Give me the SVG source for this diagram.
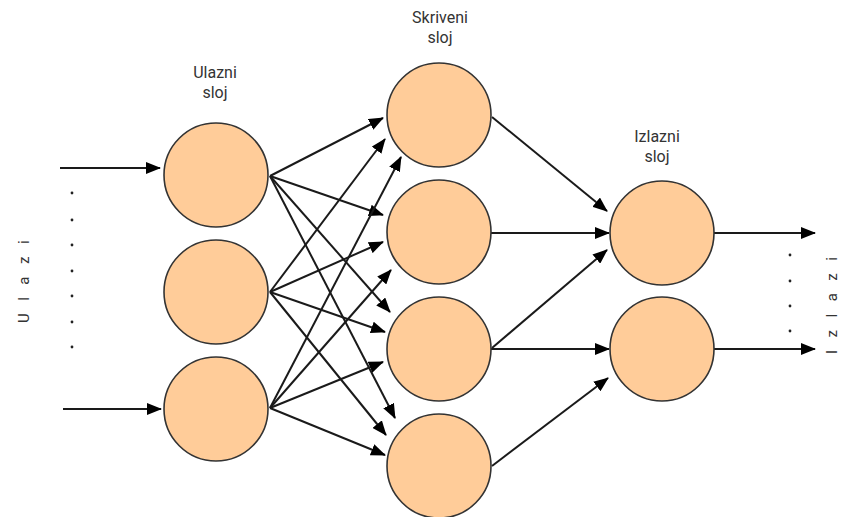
<svg xmlns="http://www.w3.org/2000/svg" width="843" height="517" viewBox="0 0 843 517">
<style>
.node{fill:#FFCC99;stroke:#333333;stroke-width:1.6}
.lbl{font-family:Roboto,"Liberation Sans",sans-serif;font-size:16px;fill:#333333;text-anchor:middle}
.side{font-family:Roboto,"Liberation Sans",sans-serif;font-size:15px;fill:#333333;letter-spacing:12.5px}
.edge{stroke:#1a1a1a;stroke-width:2;fill:none;marker-end:url(#arr)}
.dot{fill:#222222}
</style>
<defs>
<marker id="arr" viewBox="0 0 15 12" refX="14" refY="6" markerWidth="15" markerHeight="12" markerUnits="userSpaceOnUse" orient="auto">
<path d="M0,0 L15,6 L0,12 Z" fill="#000000"/>
</marker>
</defs>
<rect width="843" height="517" fill="#ffffff"/>
<g id="labels">
<text class="lbl" x="215" y="78">Ulazni</text>
<text class="lbl" x="215" y="98">sloj</text>
<text class="lbl" x="440" y="23">Skriveni</text>
<text class="lbl" x="440" y="43">sloj</text>
<text class="lbl" x="657" y="142">Izlazni</text>
<text class="lbl" x="657" y="162">sloj</text>
<text class="side" transform="translate(29,323) rotate(-90)">Ulazi</text>
<text class="side" transform="translate(837,354) rotate(-90)">Izlazi</text>
</g>
<g id="dots">
<circle class="dot" cx="72" cy="193" r="1.4"/>
<circle class="dot" cx="72" cy="220" r="1.4"/>
<circle class="dot" cx="72" cy="245" r="1.4"/>
<circle class="dot" cx="72" cy="271" r="1.4"/>
<circle class="dot" cx="72" cy="296" r="1.4"/>
<circle class="dot" cx="72" cy="322" r="1.4"/>
<circle class="dot" cx="72" cy="347" r="1.4"/>
<circle class="dot" cx="790" cy="255" r="1.4"/>
<circle class="dot" cx="790" cy="281" r="1.4"/>
<circle class="dot" cx="790" cy="306" r="1.4"/>
<circle class="dot" cx="790" cy="331" r="1.4"/>
</g>
<g id="connectors">
<line class="edge" x1="60" y1="168" x2="160" y2="168"/>
<line class="edge" x1="63" y1="409" x2="161" y2="409"/>
<line class="edge" x1="270" y1="176" x2="383" y2="118"/>
<line class="edge" x1="270" y1="176" x2="383" y2="215"/>
<line class="edge" x1="270" y1="176" x2="390" y2="312"/>
<line class="edge" x1="270" y1="176" x2="395" y2="418"/>
<line class="edge" x1="270" y1="292" x2="385" y2="139"/>
<line class="edge" x1="270" y1="292" x2="383" y2="242"/>
<line class="edge" x1="270" y1="292" x2="385" y2="332"/>
<line class="edge" x1="270" y1="292" x2="386" y2="435"/>
<line class="edge" x1="270" y1="408" x2="401" y2="157"/>
<line class="edge" x1="270" y1="408" x2="391" y2="270"/>
<line class="edge" x1="270" y1="408" x2="383" y2="362"/>
<line class="edge" x1="270" y1="408" x2="385" y2="455"/>
<line class="edge" x1="492" y1="117" x2="607" y2="211"/>
<line class="edge" x1="491" y1="233" x2="609" y2="233"/>
<line class="edge" x1="492" y1="348" x2="607" y2="250"/>
<line class="edge" x1="491" y1="349" x2="609" y2="349"/>
<line class="edge" x1="492" y1="466" x2="608" y2="378"/>
<line class="edge" x1="714" y1="233" x2="815" y2="233"/>
<line class="edge" x1="714" y1="349" x2="815" y2="349"/>
</g>
<g id="in1"><circle class="node" cx="216" cy="175" r="52"/></g>
<g id="in2"><circle class="node" cx="216" cy="292" r="52"/></g>
<g id="in3"><circle class="node" cx="216" cy="409" r="52"/></g>
<g id="h1"><circle class="node" cx="439" cy="115" r="52"/></g>
<g id="h2"><circle class="node" cx="439" cy="232" r="52"/></g>
<g id="h3"><circle class="node" cx="439" cy="349" r="52"/></g>
<g id="h4"><circle class="node" cx="439" cy="466" r="52"/></g>
<g id="out1"><circle class="node" cx="662" cy="233" r="52"/></g>
<g id="out2"><circle class="node" cx="662" cy="349" r="52"/></g>
</svg>
